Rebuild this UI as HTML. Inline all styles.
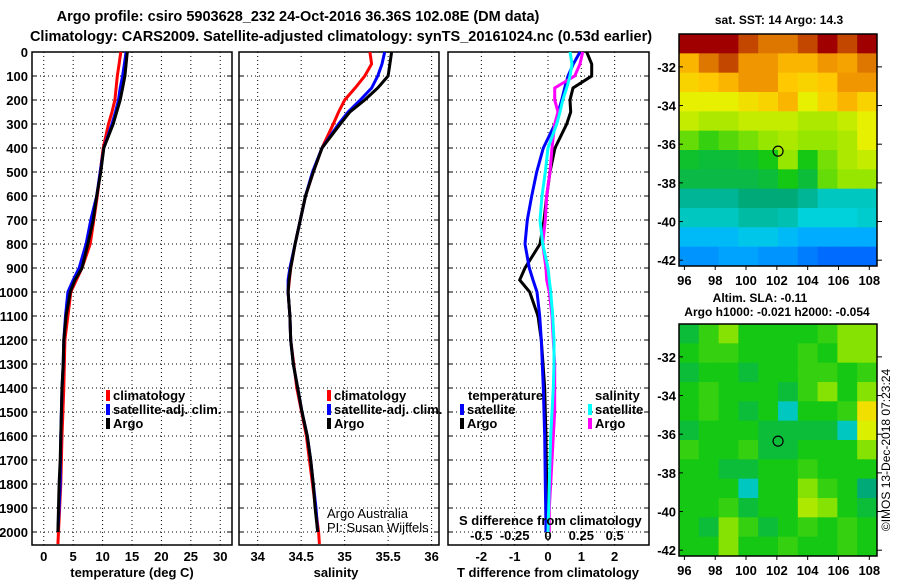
<!DOCTYPE html>
<html><head><meta charset="utf-8"><style>
html,body{margin:0;padding:0;background:#fff;}
svg{display:block;font-family:"Liberation Sans",sans-serif;}
.b{font-weight:bold;}
</style></head><body>
<svg id="chart" width="900" height="580" viewBox="0 0 900 580" xmlns="http://www.w3.org/2000/svg">
<rect width="900" height="580" fill="#fff"/>
<text class="b" x="298" y="21" font-size="14.5" text-anchor="middle">Argo profile: csiro 5903628_232 24-Oct-2016 36.36S 102.08E (DM data)</text>
<text class="b" x="341" y="41" font-size="14.5" text-anchor="middle">Climatology: CARS2009. Satellite-adjusted climatology: synTS_20161024.nc (0.53d earlier)</text>
<text class="b" x="779" y="24" font-size="12" text-anchor="middle">sat. SST: 14 Argo: 14.3</text>
<text class="b" x="760" y="302" font-size="12" text-anchor="middle">Altim. SLA: -0.11</text>
<text class="b" x="777" y="316" font-size="12" text-anchor="middle">Argo h1000: -0.021 h2000: -0.054</text>
<text x="890" y="450" font-size="12" text-anchor="middle" transform="rotate(-90 890 450)">©IMOS 13-Dec-2018 07:23:24</text>
<g id="g"></g>
</svg>
<script>
// ---- data ----
const depthTicks = [0,100,200,300,400,500,600,700,800,900,1000,1100,1200,1300,1400,1500,1600,1700,1800,1900,2000];
const tempTicks = [0,5,10,15,20,25,30];
const salTicks = [34,34.5,35,35.5,36];
const salTickLabels = ["34","34.5","35","35.5","36"];
const tdiffTicks = [-2,-1,0,1,2];
const sdiffTicks = [-0.5,-0.25,0,0.25,0.5];
const sdiffTickLabels = ["-0.5","-0.25","0","0.25","0.5"];

const depthsClim = [0,50,100,150,200,250,300,400,500,600,700,800,900,1000,1100,1200,1400,1600,1800,2000,2050];
const tempClim   = [13.1,12.8,12.5,12.3,12.1,11.6,11.0,10.1,9.6,9.1,8.5,7.9,6.5,4.6,4.1,3.6,3.4,3.1,2.9,2.5,2.4];
const salClim    = [35.29,35.31,35.23,35.12,35.0,34.93,34.87,34.74,34.64,34.55,34.49,34.43,34.38,34.35,34.37,34.38,34.45,34.56,34.63,34.70,34.71];

const depthsArgo = [0,50,100,150,200,250,300,400,500,600,700,800,900,950,1000,1100,1200,1300,1400,1500,1600,1700,1800,1900,2000];
const tempArgo   = [14.2,14.0,13.8,13.4,13.0,12.4,11.8,10.2,9.7,9.0,8.4,7.5,6.5,5.3,4.5,3.8,3.4,3.3,3.1,3.0,2.9,2.8,2.6,2.5,2.4];
const salArgo    = [35.54,35.52,35.5,35.38,35.23,35.06,34.95,34.74,34.64,34.55,34.49,34.43,34.38,34.36,34.35,34.37,34.38,34.41,34.46,34.51,34.57,34.61,34.64,34.66,34.69];
const tempSat    = [14.0,13.7,13.4,13.0,12.7,12.2,11.6,10.2,9.6,9.0,8.0,7.2,6.0,5.0,4.1,3.7,3.4,3.3,3.1,3.0,2.9,2.85,2.8,2.6,2.4];
const salSat     = [35.46,35.43,35.38,35.31,35.18,35.04,34.93,34.74,34.63,34.55,34.49,34.43,34.37,34.35,34.35,34.37,34.38,34.41,34.46,34.51,34.57,34.61,34.64,34.67,34.69];
const tdiffArgo  = [1.16,1.31,1.31,0.75,0.66,0.68,0.56,0.21,0.06,-0.04,-0.12,-0.24,-0.69,-0.85,-0.55,-0.3,-0.2,-0.15,-0.1,-0.08,-0.06,-0.05,-0.04,-0.03,-0.03];
const tdiffSat   = [0.96,0.76,0.6,0.5,0.41,0.31,0.21,-0.14,-0.34,-0.49,-0.62,-0.69,-0.56,-0.45,-0.33,-0.25,-0.2,-0.17,-0.14,-0.12,-0.1,-0.09,-0.08,-0.07,-0.06];
const sdiffArgo  = [0.26,0.24,0.2,0.05,0.05,0.075,0.05,0.03,0.015,-0.01,-0.02,-0.04,-0.015,-0.01,0.01,0.03,0.04,0.05,0.05,0.05,0.04,0.03,0.02,0.01,0.01];
const sdiffSat   = [0.165,0.18,0.165,0.14,0.11,0.09,0.065,0.0,-0.02,-0.045,-0.06,-0.04,0.0,0.01,0.02,0.035,0.045,0.045,0.04,0.03,0.02,0.015,0.01,0.005,0.0];

const mapLonTicks = [96,98,100,102,104,106,108];
const mapLatTicks = [-32,-34,-36,-38,-40,-42];
const argoLon = 102.08, argoLat = -36.36;
const sstGrid = [
[0.95,0.95,0.95,0.9,0.85,0.85,0.9,0.95,0.9,0.95],
[0.75,0.85,0.9,0.8,0.8,0.75,0.75,0.8,0.78,0.85],
[0.7,0.72,0.75,0.8,0.8,0.72,0.7,0.72,0.8,0.8],
[0.65,0.65,0.65,0.68,0.7,0.75,0.65,0.7,0.75,0.7],
[0.62,0.6,0.6,0.62,0.62,0.62,0.6,0.6,0.62,0.65],
[0.55,0.52,0.54,0.56,0.58,0.6,0.58,0.58,0.6,0.65],
[0.48,0.47,0.47,0.48,0.5,0.58,0.5,0.56,0.6,0.62],
[0.46,0.46,0.46,0.46,0.47,0.5,0.47,0.55,0.58,0.58],
[0.4,0.4,0.4,0.42,0.42,0.42,0.4,0.37,0.37,0.37],
[0.37,0.37,0.37,0.39,0.39,0.38,0.35,0.35,0.35,0.36],
[0.31,0.31,0.31,0.33,0.33,0.31,0.29,0.29,0.29,0.29],
[0.26,0.26,0.28,0.28,0.26,0.26,0.23,0.21,0.21,0.21]];
const slaGrid = [
[0.47,0.52,0.57,0.5,0.5,0.5,0.5,0.52,0.57,0.57],
[0.5,0.52,0.52,0.5,0.5,0.5,0.52,0.5,0.57,0.57],
[0.47,0.5,0.5,0.47,0.5,0.5,0.52,0.52,0.5,0.52],
[0.5,0.52,0.5,0.5,0.5,0.47,0.52,0.57,0.5,0.57],
[0.5,0.52,0.5,0.47,0.5,0.37,0.5,0.5,0.52,0.68],
[0.47,0.5,0.5,0.5,0.47,0.47,0.47,0.47,0.37,0.64],
[0.52,0.5,0.5,0.52,0.47,0.47,0.5,0.5,0.5,0.57],
[0.5,0.5,0.47,0.47,0.5,0.5,0.52,0.5,0.5,0.5],
[0.5,0.5,0.5,0.37,0.5,0.5,0.57,0.52,0.5,0.42],
[0.5,0.5,0.52,0.47,0.5,0.5,0.6,0.57,0.5,0.47],
[0.5,0.47,0.57,0.52,0.47,0.5,0.52,0.5,0.52,0.5],
[0.5,0.5,0.57,0.5,0.5,0.52,0.5,0.5,0.52,0.5]];

// ---- rendering ----
const NS="http://www.w3.org/2000/svg";
const G=document.getElementById('g');
function mk(tag,at,parent){const e=document.createElementNS(NS,tag);for(const k in at)e.setAttribute(k,at[k]);(parent||G).appendChild(e);return e;}
const top0=52, bot=545;
const yD=d=>top0+d*0.24;
const panels=[
 {name:'temperature',x0:32,x1:232,lo:-2,hi:32},
 {name:'salinity',x0:239,x1:439,lo:33.785,hi:36.085},
 {name:'difference',x0:448,x1:649,lo:-3,hi:3.03}
];
function xf(p){return v=>p.x0+(v-p.lo)/(p.hi-p.lo)*(p.x1-p.x0);}
const xT=xf(panels[0]), xS=xf(panels[1]), xTd=xf(panels[2]);
const xSd=v=>xTd(v*4);

function panelFrame(p,ticks,labels,fn){
  const g=mk('g',{});
  
  
  depthTicks.forEach(d=>{const y=yD(d);
    const l=mk('line',{x1:p.x0,x2:p.x1,y1:y,y2:y,stroke:'#000','stroke-width':1,'stroke-dasharray':'1,3'},g);
    
    
    mk('line',{x1:p.x0,x2:p.x0+5,y1:y,y2:y,stroke:'#000'},g);
    mk('line',{x1:p.x1-5,x2:p.x1,y1:y,y2:y,stroke:'#000'},g);
  });
  ticks.forEach((t,i)=>{const x=fn(t);
    const l=mk('line',{x1:x,x2:x,y1:top0,y2:bot,stroke:'#000','stroke-width':1,'stroke-dasharray':'1,3'},g);
    
    
    if(labels){const tx=mk('text',{x:x,y:561,'font-size':13,'font-weight':'bold','text-anchor':'middle'},g);
      tx.textContent=labels[i];
      
      }
  });
  const r=mk('rect',{x:p.x0,y:top0,width:p.x1-p.x0,height:bot-top0,fill:'none',stroke:'#000','stroke-width':1.5},g);
  
  
  return g;
}
panelFrame(panels[0],tempTicks,tempTicks.map(String),xT);
panelFrame(panels[1],salTicks,salTickLabels,xS);
panelFrame(panels[2],tdiffTicks,tdiffTicks.map(String),xTd);
sdiffTicks.forEach((t,i)=>{const tx=mk('text',{x:xSd(t),y:540,'font-size':13,'font-weight':'bold','text-anchor':'middle'});
  tx.textContent=sdiffTickLabels[i];
  
  });
depthTicks.forEach(d=>{const tx=mk('text',{x:28,y:yD(d)+5,'font-size':13,'font-weight':'bold','text-anchor':'end'});
  tx.textContent=String(d);
  
  });

function series(xs,ds,fx,color,name){
  const pts=xs.map((v,i)=>fx(v).toFixed(1)+','+yD(ds[i]).toFixed(1)).join(' ');
  const pl=mk('polyline',{points:pts,fill:'none',stroke:color,'stroke-width':3,'stroke-linejoin':'miter'});
  
  
}
series(tempClim,depthsClim,xT,'#ff0000','temp-climatology-line');
series(tempSat,depthsArgo,xT,'#0000ff','temp-satellite-line');
series(tempArgo,depthsArgo,xT,'#000000','temp-argo-line');
series(salClim,depthsClim,xS,'#ff0000','sal-climatology-line');
series(salSat,depthsArgo,xS,'#0000ff','sal-satellite-line');
series(salArgo,depthsArgo,xS,'#000000','sal-argo-line');
series(tdiffArgo,depthsArgo,xTd,'#000000','tdiff-argo-line');
series(tdiffSat,depthsArgo,xTd,'#0000ff','tdiff-satellite-line');
series(sdiffArgo,depthsArgo,xSd,'#ff00ff','sdiff-argo-line');
series(sdiffSat,depthsArgo,xSd,'#00ffff','sdiff-satellite-line');

function txt(x,y,s,name,opts){const t=mk('text',Object.assign({x:x,y:y,'font-size':13,'font-weight':'bold'},opts||{}));t.textContent=s;
  
  return t;}
function legend(x,y,color,label,name){
  const r=mk('rect',{x:x,y:y-10,width:4,height:11,fill:color});
  
  
  txt(x+7,y,label,name+'-label');
}
legend(106,400,'#ff0000','climatology','legend-temp-climatology');
legend(106,414,'#0000ff','satellite-adj. clim.','legend-temp-satellite');
legend(106,428,'#000000','Argo','legend-temp-argo');
legend(327,400,'#ff0000','climatology','legend-sal-climatology');
legend(327,414,'#0000ff','satellite-adj. clim.','legend-sal-satellite');
legend(327,428,'#000000','Argo','legend-sal-argo');
txt(468,400,'temperature','legend-temperature-heading');
legend(460,414,'#0000ff','satellite','legend-tdiff-satellite');
legend(460,428,'#000000','Argo','legend-tdiff-argo');
txt(595,400,'salinity','legend-salinity-heading');
legend(588,414,'#00ffff','satellite','legend-sdiff-satellite');
legend(588,428,'#ff00ff','Argo','legend-sdiff-argo');
txt(459,525,'S difference from climatology','s-diff-axis-title');
txt(327,518,'Argo Australia','argo-australia-credit',{'font-weight':'normal'});
txt(327,532,'PI: Susan Wijffels','pi-credit',{'font-weight':'normal'});
txt(132,577,'temperature (deg C)','temperature-axis-title',{'text-anchor':'middle'});
txt(336,577,'salinity','salinity-axis-title',{'text-anchor':'middle'});
txt(548,577,'T difference from climatology','t-diff-axis-title',{'text-anchor':'middle'});

// colormap
const stops=[[0,[0,0,180]],[0.2,[0,100,255]],[0.3,[0,180,255]],[0.35,[0,210,220]],[0.42,[0,170,120]],[0.5,[20,200,20]],[0.58,[150,230,0]],[0.65,[230,240,0]],[0.72,[255,200,0]],[0.8,[240,150,0]],[0.88,[210,100,0]],[0.95,[160,0,0]],[1,[140,0,0]]];
function cmap(v){for(let i=1;i<stops.length;i++){if(v<=stops[i][0]){const a=stops[i-1],b=stops[i],t=(v-a[0])/(b[0]-a[0]);
  const c=a[1].map((q,k)=>Math.round(q+(b[1][k]-q)*t));return 'rgb('+c.join(',')+')';}}return 'rgb(140,0,0)';}

function drawMap(grid,mx0,my0,mx1,my1,name){
  const lonL=95.65,lonR=108.5,latT=-30.3,latB=-42.3;
  const xm=lon=>mx0+(lon-lonL)/(lonR-lonL)*(mx1-mx0);
  const ym=lat=>my0+(latT-lat)/(latT-latB)*(my1-my0);
  const g=mk('g',{});
  
  
  const rows=grid.length, cols=grid[0].length;
  const cw=(mx1-mx0)/cols, ch=(my1-my0)/rows;
  grid.forEach((row,r)=>row.forEach((v,c)=>{
    const rc=mk('rect',{x:mx0+c*cw,y:my0+r*ch,width:cw+0.5,height:ch+0.5,fill:cmap(v)},g);
    
    
  }));
  const fr=mk('rect',{x:mx0,y:my0,width:mx1-mx0,height:my1-my0,fill:'none',stroke:'#000','stroke-width':1.5},g);
  
  
  mapLatTicks.forEach(la=>{const y=ym(la);
    mk('line',{x1:mx0,x2:mx0+4,y1:y,y2:y,stroke:'#000'},g);
    mk('line',{x1:mx1,x2:mx1+5,y1:y,y2:y,stroke:'#000'},g);
    const t=mk('text',{x:mx0-3,y:y+5,'font-size':13,'font-weight':'bold','text-anchor':'end'},g);t.textContent=String(la);
    
    });
  mapLonTicks.forEach(lo=>{const x=xm(lo);
    mk('line',{x1:x,x2:x,y1:my1,y2:my1+4,stroke:'#000'},g);
    const t=mk('text',{x:x,y:my1+19,'font-size':13,'font-weight':'bold','text-anchor':'middle'},g);t.textContent=String(lo);
    
    });
  const c=mk('circle',{cx:xm(argoLon),cy:ym(argoLat),r:5,fill:'none',stroke:'#000','stroke-width':1.2},g);
  
  
}
drawMap(sstGrid,679,34,877,266,'sst-map');
drawMap(slaGrid,679,324,877,556,'sla-map');
</script>
</body></html>
